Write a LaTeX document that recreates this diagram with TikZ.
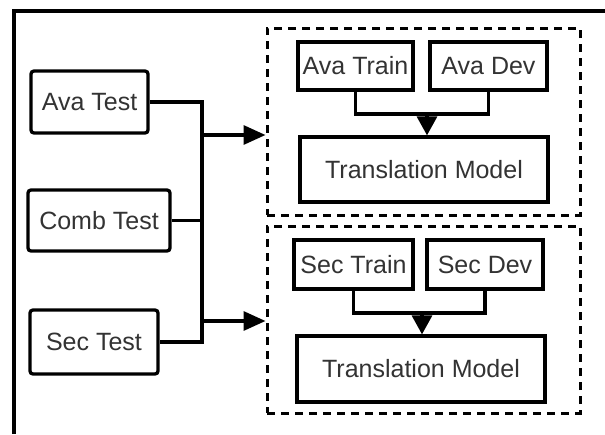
\documentclass[tikz,border=0pt]{standalone}
\usepackage{fontspec}
\setmainfont{Liberation Sans}
\usetikzlibrary{arrows.meta}
\begin{document}
\begin{tikzpicture}[x=1pt,y=-1pt,
  box/.style={draw=black,line width=3.3pt,inner sep=0pt,font=\fontsize{25}{29}\selectfont,text=black!80},
  rbox/.style={box,rounded corners=3pt},
  grp/.style={draw=black,line width=3pt,dash pattern=on 8pt off 6pt,inner sep=0pt,minimum width=313pt,minimum height=187pt},
  conn/.style={line width=3.3pt},
  arr/.style={line width=3.3pt,-{Triangle[length=22pt,width=19pt]}},
  varr/.style={line width=3.3pt,-{Triangle[length=19pt,width=20pt]}}]
\useasboundingbox (0,0) rectangle (605,434);
\fill[white] (0,0) rectangle (605,434);
% frame (top and left edges)
\draw[line width=4pt] (13.5,434) -- (13.5,11) -- (605,11);
% left inputs
\node[rbox,minimum width=117pt,minimum height=62pt] (avatest) at (89.5,102) {Ava Test};
\node[rbox,minimum width=142pt,minimum height=61pt] (combtest) at (99,220.5) {Comb Test};
\node[rbox,minimum width=128pt,minimum height=64pt] (sectest) at (94,342) {Sec Test};
\coordinate (jt) at (202,102);
\coordinate (jb) at (202,342);
\coordinate (j1) at (202,135);
\coordinate (j2) at (202,321);
\draw[conn] (avatest.east) -- (jt) -- (jb) -- (sectest.east);
\draw[conn] (combtest.east) -- (combtest.east -| jt);
% groups
\node[grp] (ugrp) at (423.5,121.5) {};
\node[grp] (lgrp) at (423.5,319.5) {};
\draw[arr] (j1) -- (j1 -| ugrp.west);
\draw[arr] (j2) -- (j2 -| lgrp.west);
% upper group
\node[box,minimum width=115pt,minimum height=48pt] (avatrain) at (355.5,66) {Ava Train};
\node[box,minimum width=117pt,minimum height=48pt] (avadev) at (488.5,66) {Ava Dev};
\node[box,minimum width=248pt,minimum height=65pt] (tm1) at (424,169.5) {Translation Model};
\coordinate (m1) at (427,114);
\draw[conn] (avatrain.south) -- (avatrain.south |- m1) -- (avadev.south |- m1) -- (avadev.south);
\draw[varr] (m1) -- (m1 |- tm1.north);
% lower group
\node[box,minimum width=119pt,minimum height=49pt] (sectrain) at (353.5,264.5) {Sec Train};
\node[box,minimum width=116pt,minimum height=49pt] (secdev) at (485,264.5) {Sec Dev};
\node[box,minimum width=248pt,minimum height=66pt] (tm2) at (421,369) {Translation Model};
\coordinate (m2) at (422,313);
\draw[conn] (sectrain.south) -- (sectrain.south |- m2) -- (secdev.south |- m2) -- (secdev.south);
\draw[varr] (m2) -- (m2 |- tm2.north);
\end{tikzpicture}
\end{document}
